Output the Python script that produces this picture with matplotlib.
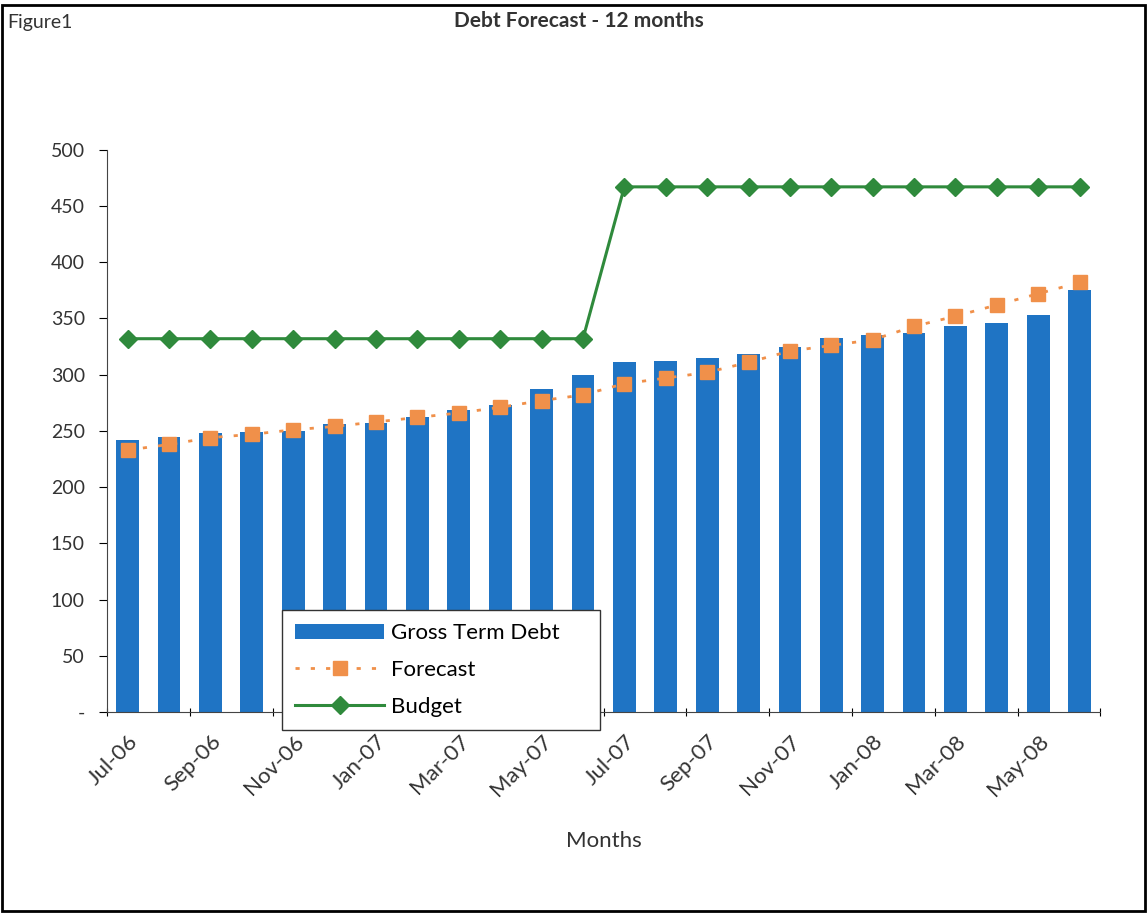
import matplotlib.pyplot as plt
from matplotlib.patches import Rectangle

plt.rcParams['font.family'] = ['Lato', 'DejaVu Sans']

# Data
months = ['Jul-06', 'Aug-06', 'Sep-06', 'Oct-06', 'Nov-06', 'Dec-06',
          'Jan-07', 'Feb-07', 'Mar-07', 'Apr-07', 'May-07', 'Jun-07',
          'Jul-07', 'Aug-07', 'Sep-07', 'Oct-07', 'Nov-07', 'Dec-07',
          'Jan-08', 'Feb-08', 'Mar-08', 'Apr-08', 'May-08', 'Jun-08']
gross_debt = [242, 245, 248, 249, 250, 256, 257, 262, 269, 273, 287, 300,
              311, 312, 315, 318, 325, 333, 335, 337, 343, 346, 353, 375]
forecast = [233, 238, 244, 247, 251, 254, 258, 262, 266, 271, 277, 282,
            292, 297, 302, 311, 321, 326, 331, 343, 352, 362, 372, 382]
budget = [332] * 12 + [467] * 12
yticks = [0, 50, 100, 150, 200, 250, 300, 350, 400, 450, 500]
ytick_labels = ['-', '50', '100', '150', '200', '250', '300', '350', '400', '450', '500']

blue = '#1f74c4'
orange = '#f0904a'
green = '#2f8a3c'

fig = plt.figure(figsize=(11.47, 9.13), dpi=100)
ax = fig.add_axes([0.0933, 0.22, 0.866, 0.616])

x = list(range(len(months)))
bars = ax.bar(x, gross_debt, width=0.55, color=blue, label='Gross Term Debt', zorder=2)
fc_line, = ax.plot(x, forecast, linestyle=(0, (1.5, 4)), color=orange, linewidth=2,
                   marker='s', markersize=10, markerfacecolor=orange,
                   markeredgecolor=orange, label='Forecast', zorder=3)
bud_line, = ax.plot(x, budget, '-', color=green, linewidth=2.2, marker='D',
                    markersize=9, label='Budget', zorder=4)

ax.set_xlim(-0.5, len(months) - 0.5)
ax.set_ylim(0, 500)
ax.set_yticks(yticks)
ax.set_yticklabels(ytick_labels, fontsize=14, color='#333333')

# category ticks between months, labels on every other month
ax.set_xticks([i - 0.5 for i in range(0, len(months) + 1, 2)])
ax.set_xticklabels([])
ax.set_xticks(x[::2], minor=True)
ax.set_xticklabels(months[::2], minor=True, rotation=45, ha='right',
                   rotation_mode='anchor', fontsize=16, color='#333333')
ax.tick_params(axis='x', which='minor', length=0, pad=14)
ax.tick_params(axis='x', which='major', length=6, direction='inout')
ax.tick_params(axis='y', length=6, direction='out', pad=10)

for s in ['top', 'right']:
    ax.spines[s].set_visible(False)
ax.spines['left'].set_color('#444444')
ax.spines['bottom'].set_color('#444444')

ax.set_xlabel('Months', fontsize=16, labelpad=22, color='#333333')

leg = ax.legend([bars, fc_line, bud_line], ['Gross Term Debt', 'Forecast', 'Budget'],
                loc='lower left', bbox_to_anchor=(0.176, -0.032, 0.32, 0.217),
                mode='expand', borderaxespad=0, fontsize=16, framealpha=1,
                frameon=True, fancybox=False, edgecolor='#333333',
                handlelength=4, borderpad=0.6, labelspacing=0.75,
                handletextpad=0.3)
leg.get_frame().set_linewidth(1)
leg.set_zorder(10)

fig.text(0.006, 0.975, 'Figure1', fontsize=14, va='center', ha='left', color='#333333')
fig.text(0.505, 0.977, 'Debt Forecast - 12 months', fontsize=15,
         fontweight='bold', va='center', ha='center', color='#333333')

fig.patches.append(Rectangle((0.002, 0.002), 0.996, 0.993, transform=fig.transFigure,
                             fill=False, edgecolor='black', linewidth=2))

fig.savefig('out.png', dpi=100)
